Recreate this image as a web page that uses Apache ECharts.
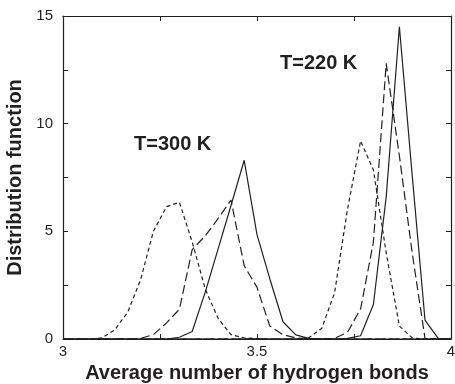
<!DOCTYPE html>
<html>
<head>
<meta charset="utf-8">
<script src="https://cdn.jsdelivr.net/npm/echarts@6/dist/echarts.min.js"></script>
<style>
html,body{margin:0;padding:0;background:#fff;}
#chart{width:455px;height:384px;}
</style>
</head>
<body>
<div id="chart"></div>
<script>
// Bin centres (average number of hydrogen bonds)
const xValues = [3.000, 3.033, 3.067, 3.100, 3.133, 3.167, 3.200, 3.233, 3.267, 3.300,
                 3.333, 3.367, 3.400, 3.433, 3.467, 3.500, 3.533, 3.567, 3.600, 3.633,
                 3.667, 3.700, 3.733, 3.767, 3.800, 3.833, 3.867, 3.900, 3.933, 3.967, 4.000];

// T = 300 K
const shortDash300 = [0, 0, 0, 0.05, 0.42, 1.25, 2.75, 5.0, 6.15, 6.35,
                      4.5, 2.3, 0.95, 0.2, 0.05, 0.02, 0, 0, 0, 0,
                      0, 0, 0, 0, 0, 0, 0, 0, 0, 0, 0];
const longDash300  = [0, 0, 0, 0, 0, 0, 0.03, 0.2, 0.75, 1.38,
                      4.15, 4.8, 5.6, 6.45, 3.4, 2.4, 0.6, 0.2, 0.05, 0.02,
                      0, 0, 0, 0, 0, 0, 0, 0, 0, 0, 0];
const solid300     = [0, 0, 0, 0, 0, 0, 0, 0, 0, 0.08,
                      0.35, 2.2, 4.2, 6.2, 8.3, 4.85, 2.8, 0.8, 0.19, 0.03,
                      0, 0, 0, 0, 0, 0, 0, 0, 0, 0, 0];
// T = 220 K
const shortDash220 = [0, 0, 0, 0, 0, 0, 0, 0, 0, 0,
                      0, 0, 0, 0, 0, 0, 0, 0, 0, 0.05,
                      0.5, 2.15, 6.0, 9.2, 7.85, 4.0, 0.6, 0.05, 0, 0, 0];
const longDash220  = [0, 0, 0, 0, 0, 0, 0, 0, 0, 0,
                      0, 0, 0, 0, 0, 0, 0, 0, 0, 0,
                      0, 0.03, 0.3, 1.4, 4.5, 12.8, 8.5, 4.0, 0.03, 0, 0];
const solid220     = [0, 0, 0, 0, 0, 0, 0, 0, 0, 0,
                      0, 0, 0, 0, 0, 0, 0, 0, 0, 0,
                      0, 0, 0.03, 0.15, 1.6, 6.6, 14.5, 7.6, 0.88, 0.03, 0];

const xTickLabels = ['3', '3.5', '4'];
const yTickLabels = ['0', '5', '10', '15'];
const annotations = ['T=300 K', 'T=220 K'];

const FONT = 'Liberation Sans, Arial, Helvetica, sans-serif';
const INK = '#231f20';

function pairs(ys) { return xValues.map((x, i) => [x, ys[i]]); }
function fmtX(v) { const s = String(+v.toFixed(2)); return xTickLabels.includes(s) ? s : ''; }
function fmtY(v) { const s = String(+v.toFixed(2)); return yTickLabels.includes(s) ? s : ''; }

const lineSeries = (ys, type) => ({
  type: 'line', data: pairs(ys), showSymbol: false, symbol: 'none',
  lineStyle: { color: INK, width: 1.2, type: type }, animation: false, silent: true, z: 3
});

const chart = echarts.init(document.getElementById('chart'), null, { renderer: 'canvas' });
const tickStyle = { show: true, inside: true, length: 5, lineStyle: { color: INK, width: 1 } };
const axisLine = { show: true, onZero: false, lineStyle: { color: INK, width: 1.2 } };

chart.setOption({
  animation: false,
  backgroundColor: '#fff',
  grid: { left: 63, right: 4, top: 16, bottom: 45, containLabel: false, outerBoundsMode: 'none' },
  xAxis: [
    { type: 'value', min: 3, max: 4, interval: 0.25, position: 'bottom',
      axisLine: axisLine, axisTick: tickStyle, splitLine: { show: false },
      axisLabel: { formatter: fmtX, color: INK, fontSize: 15, fontFamily: FONT, margin: 5, showMinLabel: true, showMaxLabel: true, hideOverlap: false },
      name: 'Average number of hydrogen bonds', nameLocation: 'middle', nameGap: 21,
      nameTextStyle: { color: INK, fontSize: 20, fontWeight: 'bold', fontFamily: FONT } },
    { type: 'value', min: 3, max: 4, interval: 0.25, position: 'top',
      axisLine: axisLine, axisTick: tickStyle, splitLine: { show: false }, axisLabel: { show: false } }
  ],
  yAxis: [
    { type: 'value', min: 0, max: 15, interval: 2.5, position: 'left',
      axisLine: axisLine, axisTick: tickStyle, splitLine: { show: false },
      axisLabel: { formatter: fmtY, color: INK, fontSize: 15, fontFamily: FONT, margin: 10 },
      name: 'Distribution function', nameLocation: 'middle', nameGap: 30,
      nameTextStyle: { color: INK, fontSize: 20, fontWeight: 'bold', fontFamily: FONT } },
    { type: 'value', min: 0, max: 15, interval: 2.5, position: 'right',
      axisLine: axisLine, axisTick: tickStyle, splitLine: { show: false }, axisLabel: { show: false } }
  ],
  series: [
    lineSeries(shortDash300, [4, 3]),
    lineSeries(longDash300, [9, 4]),
    lineSeries(solid300, 'solid'),
    lineSeries(shortDash220, [4, 3]),
    lineSeries(longDash220, [9, 4]),
    lineSeries(solid220, 'solid')
  ],
  graphic: [
    { type: 'text', left: 174 - 40, top: 134, silent: true,
      style: { text: annotations[0], font: 'bold 20px ' + FONT, fill: INK } },
    { type: 'text', left: 320 - 40, top: 53, silent: true,
      style: { text: annotations[1], font: 'bold 20px ' + FONT, fill: INK } }
  ]
});
</script>
</body>
</html>
